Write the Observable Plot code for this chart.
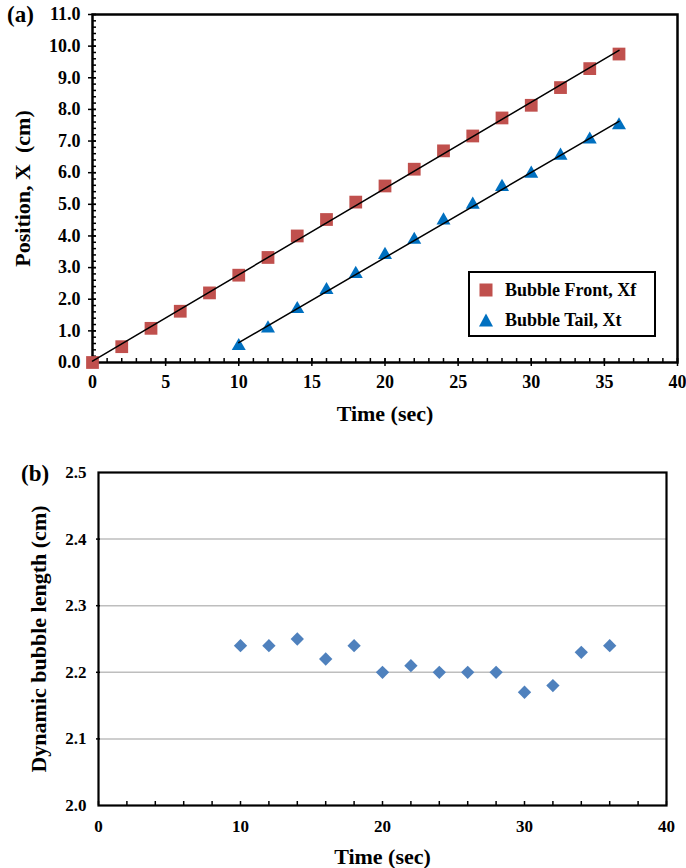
<!DOCTYPE html>
<html><head><meta charset="utf-8">
<script src="https://cdn.jsdelivr.net/npm/d3@7"></script>
<script src="https://cdn.jsdelivr.net/npm/@observablehq/plot@0.6"></script>
<style>
body{margin:0;background:#fff;}
#wrap{position:relative;width:686px;height:868px;font-family:"Liberation Serif","Times New Roman",serif;font-weight:bold;color:#000;}
.panel{position:absolute;left:0;}
.tag{position:absolute;font-size:23px;line-height:1;}
.legend{position:absolute;left:468px;top:271px;width:184px;height:62px;border:2px solid #000;background:#fff;font-size:18px;}
.legend .row{position:absolute;left:8px;height:20px;display:flex;align-items:center;}
.legend svg{margin-right:11px;}
</style></head>
<body>
<div id="wrap">
  <div id="pa" class="panel" style="top:0"></div>
  <div id="pb" class="panel" style="top:440px"></div>
  <div class="tag" style="left:7px;top:3px">(a)</div>
  <div class="tag" style="left:21px;top:462px">(b)</div>
  <div class="legend" id="legend"></div>
</div>
<script>
// ---- data ----
const timeFront = [0,2,4,6,8,10,12,14,16,18,20,22,24,26,28,30,32,34,36];
const posFront  = [0.00,0.50,1.08,1.62,2.20,2.76,3.32,4.00,4.52,5.07,5.58,6.11,6.69,7.16,7.73,8.13,8.69,9.29,9.75];
const timeTail  = [10,12,14,16,18,20,22,24,26,28,30,32,34,36];
const posTail   = [0.52,1.08,1.69,2.29,2.80,3.40,3.88,4.49,4.99,5.55,5.97,6.54,7.05,7.50];
const timeLen   = [10,12,14,16,18,20,22,24,26,28,30,32,34,36];
const bubbleLen = [2.24,2.24,2.25,2.22,2.24,2.20,2.21,2.20,2.20,2.20,2.17,2.18,2.23,2.24];

const xTicksA = [0,5,10,15,20,25,30,35,40];
const xMinorA = d3.range(0,41,1);
const yTicksA = [0,1,2,3,4,5,6,7,8,9,10,11];
const yMinorA = d3.range(0,56).map(i => i/5);
const xTicksB = [0,10,20,30,40];
const xMinorB = d3.range(0,41,2);
const yTicksB = [2.0,2.1,2.2,2.3,2.4,2.5];
const yGridB  = [2.1,2.2,2.3,2.4];

const labelsA = {x:"Time (sec)", y:"Position, X\u00a0 (cm)"};
const labelsB = {x:"Time (sec)", y:"Dynamic bubble length (cm)"};
const seriesNames = ["Bubble Front, Xf","Bubble Tail, Xt"];
const colors = {front:"#C0504D", tail:"#0070C0", len:"#4F81BD"};

const front = timeFront.map((t,i)=>({t, v:posFront[i]}));
const tail  = timeTail.map((t,i)=>({t, v:posTail[i]}));
const lens  = timeLen.map((t,i)=>({t, v:bubbleLen[i]}));

const style = {fontFamily:"'Liberation Serif', 'Times New Roman', serif", fontWeight:"bold", fontSize:"17px", color:"#000", background:"transparent", overflow:"visible"};
const blank = () => "";
const noArrow = {labelArrow:false};

const A = Plot.plot({
  width:686, height:440, marginLeft:92, marginRight:9, marginTop:14, marginBottom:78,
  style,
  x:{domain:[0,40], ...noArrow}, y:{domain:[0,11], ...noArrow},
  marks:[
    Plot.axisX(xMinorA, {tickSize:4, dy:-4, tickFormat:blank, label:null, strokeWidth:1.5}),
    Plot.axisX(xTicksA, {tickSize:8, dy:-4, tickFormat:blank, label:null, strokeWidth:1.5}),
    Plot.axisX(xTicksA, {tickSize:0, tickPadding:13, tickFormat:d=>d, label:null, fontSize:18}),
    Plot.axisX([], {tickSize:0, label:labelsA.x, labelAnchor:"center", labelOffset:58, labelArrow:false, fontSize:22}),
    Plot.axisY(yMinorA, {tickSize:4, dx:4, tickFormat:blank, label:null, strokeWidth:1.5}),
    Plot.axisY(yTicksA, {tickSize:8, dx:4, tickFormat:blank, label:null, strokeWidth:1.5}),
    Plot.axisY(yTicksA, {tickSize:0, tickPadding:12, tickFormat:d3.format(".1f"), label:null, fontSize:18}),
    Plot.axisY([], {tickSize:0, label:labelsA.y, labelAnchor:"center", labelOffset:78, labelArrow:false, fontSize:22}),
    Plot.frame({stroke:"#000", strokeWidth:2.5}),
    Plot.dot(front, {x:"t", y:"v", symbol:"square", r:7.2, fill:colors.front}),
    Plot.dot(tail, {x:"t", y:"v", symbol:"triangle", r:5.2, fill:colors.tail}),
    Plot.linearRegressionY(front, {x:"t", y:"v", ci:0, stroke:"#000", strokeWidth:1.5}),
    Plot.linearRegressionY(tail, {x:"t", y:"v", ci:0, stroke:"#000", strokeWidth:1.5})
  ]
});
document.getElementById("pa").append(A);

const B = Plot.plot({
  width:686, height:428, marginLeft:98, marginRight:20, marginTop:32, marginBottom:63,
  style,
  x:{domain:[0,40], ...noArrow}, y:{domain:[2.0,2.5], ...noArrow},
  marks:[
    Plot.gridY(yGridB, {stroke:"#BEBEBE", strokeOpacity:1, strokeWidth:1.5}),
    Plot.axisY(yGridB, {tickSize:4, dx:2, tickFormat:blank, label:null, strokeWidth:1.5}),
    Plot.axisX(xMinorB, {tickSize:4, dy:-4, tickFormat:blank, label:null, strokeWidth:1.5}),
    Plot.axisX(xTicksB, {tickSize:0, tickPadding:14, tickFormat:d=>d, label:null, fontSize:17}),
    Plot.axisX([], {tickSize:0, label:labelsB.x, labelAnchor:"center", labelOffset:58, labelArrow:false, fontSize:22}),
    Plot.axisY(yTicksB, {tickSize:0, tickPadding:12, tickFormat:d3.format(".1f"), label:null, fontSize:17}),
    Plot.axisY([], {tickSize:0, label:labelsB.y, labelAnchor:"center", labelOffset:68, labelArrow:false, fontSize:22}),
    Plot.frame({stroke:"#000", strokeWidth:2.2}),
    Plot.dot(lens, {x:"t", y:"v", symbol:"diamond2", r:6, fill:colors.len})
  ]
});
document.getElementById("pb").append(B);

// legend
const leg = document.getElementById("legend");
const sq = `<svg width="16" height="16"><rect x="1.5" y="1.5" width="13" height="13" fill="${colors.front}"/></svg>`;
const tri = `<svg width="16" height="16"><path d="M8,1.5 L15,14.5 L1,14.5Z" fill="${colors.tail}"/></svg>`;
leg.innerHTML = `<div class="row" style="top:7px">${sq}<span>${seriesNames[0]}</span></div>
<div class="row" style="top:37px">${tri}<span>${seriesNames[1]}</span></div>`;
</script>
</body></html>
